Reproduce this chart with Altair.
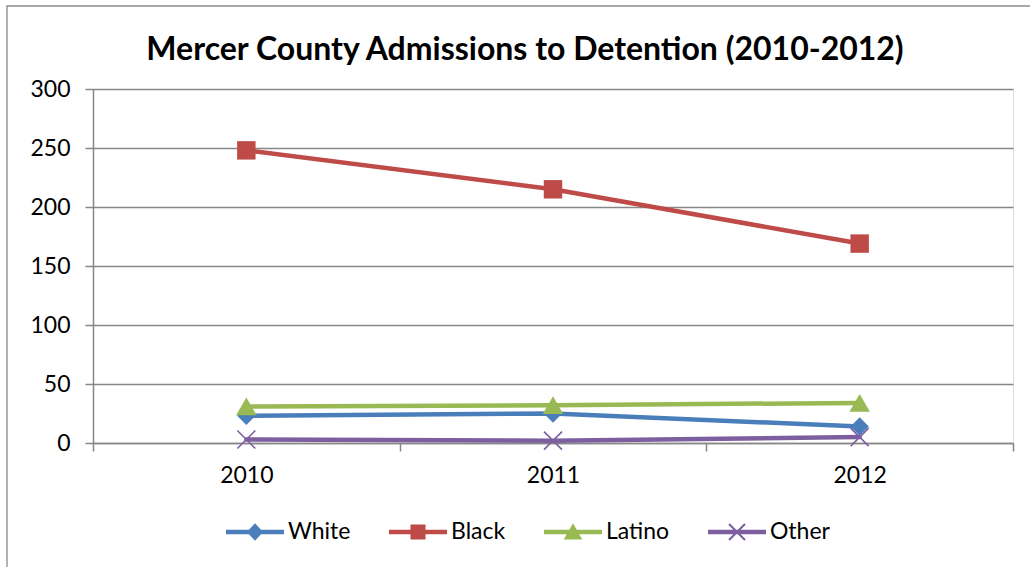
import altair as alt
import pandas as pd

years = ["2010", "2011", "2012"]
series_names = ["White", "Black", "Latino", "Other"]
white = [23, 25, 14]
black = [248, 215, 169]
latino = [31, 32, 34]
other = [3, 2, 5]
colors = ["#4A7EBB", "#BE4B48", "#98B954", "#7D5FA0"]
y_ticks = [0, 50, 100, 150, 200, 250, 300]
title_text = "Mercer County Admissions to Detention (2010-2012)"

values = {"White": white, "Black": black, "Latino": latino, "Other": other}
rows = [{"year": y, "series": s, "value": v}
        for s in series_names for y, v in zip(years, values[s])]
df = pd.DataFrame(rows)

FONT = "Lato"
GRID = "#878787"

marker_shape = {"White": "diamond", "Black": "square", "Latino": "triangle-up",
                "Other": "M-1,-1L1,1M1,-1L-1,1"}
marker_size = {"White": 340, "Black": 340, "Latino": 420, "Other": 324}
marker_filled = {"White": True, "Black": True, "Latino": True, "Other": False}

# legend symbols: line with marker (unit box: 1 = half symbol width)
LINE = "M-1,-0.078H1V0.078H-1Z"
legend_paths = [
    LINE + "M0,-0.3L0.28,0L0,0.3L-0.28,0Z",
    LINE + "M-0.26,-0.26H0.26V0.26H-0.26Z",
    LINE + "M0,-0.3L0.32,0.26L-0.32,0.26Z",
    LINE + "M-0.3,-0.25L-0.25,-0.3L0.3,0.25L0.25,0.3ZM0.25,-0.3L0.3,-0.25L-0.25,0.3L-0.3,0.25Z",
]

x_enc = alt.X(
    "year:N", sort=years,
    scale=alt.Scale(type="band", paddingInner=0, paddingOuter=0),
    axis=alt.Axis(title=None, labelAngle=0, tickBand="extent", tickSize=8,
                  tickColor=GRID, tickWidth=1.5, domainColor=GRID, domainWidth=1.5,
                  labelFont=FONT, labelFontSize=23, labelColor="black",
                  labelPadding=13, grid=False),
)
y_enc = alt.Y(
    "value:Q",
    scale=alt.Scale(domain=[0, 300], nice=False, zero=True),
    axis=alt.Axis(title=None, values=y_ticks, tickSize=8, tickColor=GRID,
                  tickWidth=1.5, domainColor=GRID, domainWidth=1.5,
                  grid=True, gridColor=GRID, gridWidth=1.5,
                  labelFont=FONT, labelFontSize=23, labelColor="black",
                  labelPadding=15),
)

base = alt.Chart(df)

layers = []
for s, c in zip(series_names, colors):
    layers.append(
        base.transform_filter(alt.datum.series == s)
        .mark_line(color=c, strokeWidth=4.5, strokeCap="round", strokeJoin="round")
        .encode(x=x_enc, y=y_enc)
    )
for s, c in zip(series_names, colors):
    if marker_filled[s]:
        mk = alt.MarkDef(type="point", shape=marker_shape[s], size=marker_size[s],
                         filled=True, fill=c, color=c, opacity=1, strokeWidth=0)
    else:
        mk = alt.MarkDef(type="point", shape=marker_shape[s], size=marker_size[s],
                         filled=False, stroke=c, color=c, opacity=1, strokeWidth=1.6)
    layers.append(
        alt.Chart(df, mark=mk).transform_filter(alt.datum.series == s).encode(x=x_enc, y=y_enc)
    )

legend_layer = (
    base.transform_filter(alt.datum.value < 0)
    .mark_point(filled=True, opacity=1)
    .encode(
        x=x_enc, y=y_enc,
        color=alt.Color("series:N", scale=alt.Scale(domain=series_names, range=colors),
                        legend=alt.Legend(
                            title=None, orient="none", legendX=133, legendY=414,
                            direction="horizontal", symbolSize=3364,
                            symbolStrokeWidth=0, symbolOpacity=1,
                            labelFont=FONT, labelFontSize=23, labelColor="black",
                            labelOffset=4, columnPadding=38, padding=0)),
        shape=alt.Shape("series:N", scale=alt.Scale(domain=series_names, range=legend_paths)),
    )
)

frame = alt.Chart(alt.Data(values=[{"a": 1}])).mark_rect(
    fill=None, stroke="#8a8a8a", strokeWidth=1.3
).encode(x=alt.value(-86), x2=alt.value(1300), y=alt.value(-83), y2=alt.value(800))

chart = alt.layer(frame, *layers, legend_layer).properties(
    width=920, height=354,
    title=alt.TitleParams(title_text, font=FONT, fontSize=32, fontWeight="bold",
                          color="black", anchor="middle", dx=-28, dy=87, offset=0,
                          baseline="alphabetic"),
    autosize=alt.AutoSizeParams(type="none"),
    padding={"left": 93, "top": 89, "right": 17, "bottom": 124},
).configure_view(stroke=None).configure(background="white")

chart.save("out.html", embed_options={"renderer": "svg", "actions": False})
